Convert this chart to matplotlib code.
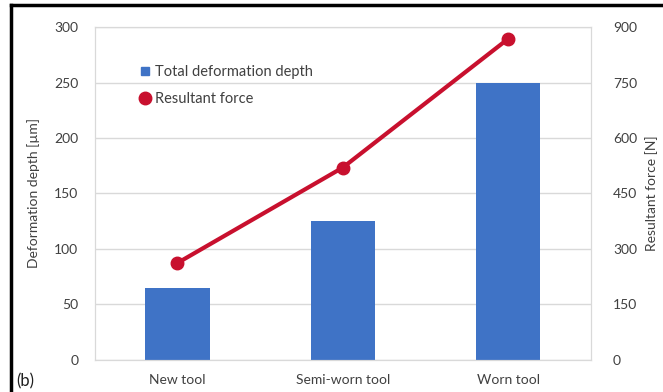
import matplotlib.pyplot as plt
from matplotlib.lines import Line2D

plt.rcParams['font.family'] = ['Lato', 'DejaVu Sans']

tools = ['New tool', 'Semi-worn tool', 'Worn tool']
depth = [65, 125, 250]          # um
force = [262, 520, 868]         # N
depth_ticks = [0, 50, 100, 150, 200, 250, 300]
force_ticks = [0, 150, 300, 450, 600, 750, 900]

bar_col = '#3f73c6'
line_col = '#c8102e'
txt_col = '#404040'

fig = plt.figure(figsize=(6.63, 3.92), dpi=100)
ax = fig.add_axes([0.143, 0.082, 0.748, 0.849])
ax2 = ax.twinx()

x = range(len(tools))
bars = ax.bar(x, depth, width=0.39, color=bar_col, zorder=2,
              label='Total deformation depth')
ln, = ax2.plot(x, force, color=line_col, lw=3, marker='o', ms=9,
               markerfacecolor=line_col, markeredgecolor=line_col,
               label='Resultant force', zorder=3)

ax.set_xlim(-0.5, 2.5)
ax.set_ylim(0, 300)
ax2.set_ylim(0, 900)
ax.set_yticks(depth_ticks)
ax2.set_yticks(force_ticks)
ax.set_xticks(list(x))
ax.set_xticklabels(tools)

ax.grid(axis='y', color='#d9d9d9', lw=1, zorder=0)
ax.set_axisbelow(True)
for a in (ax, ax2):
    for s in a.spines.values():
        s.set_color('#d9d9d9')
    a.tick_params(length=0, labelsize=10, colors=txt_col)
ax.tick_params(axis='y', pad=12)
ax2.tick_params(axis='y', pad=16)
ax.tick_params(axis='x', pad=10)

ax.set_ylabel('Deformation depth [µm]', fontsize=10, color=txt_col, labelpad=10)
ax2.set_ylabel('Resultant force [N]', fontsize=10, color=txt_col,
               rotation=90, labelpad=6)

handles = [Line2D([], [], ls='none', marker='s', ms=6, color=bar_col),
           Line2D([], [], ls='none', marker='o', ms=9, color=line_col)]
ax.legend(handles, ['Total deformation depth', 'Resultant force'],
          loc='upper left', bbox_to_anchor=(0.06, 0.925), frameon=False,
          fontsize=10.5, handletextpad=0.2, labelspacing=0.9,
          handlelength=1.0, labelcolor=txt_col)

# panel frame and label
fig.add_artist(Line2D([0.017, 0.017], [0, 0.986], color='black', lw=2.5,
                      transform=fig.transFigure))
fig.add_artist(Line2D([0.017, 1.0], [0.986, 0.986], color='black', lw=2.5,
                      transform=fig.transFigure))
fig.text(0.025, 0.006, '(b)', fontsize=12, color='#202020', va='bottom')

fig.savefig('out.png', dpi=100)
